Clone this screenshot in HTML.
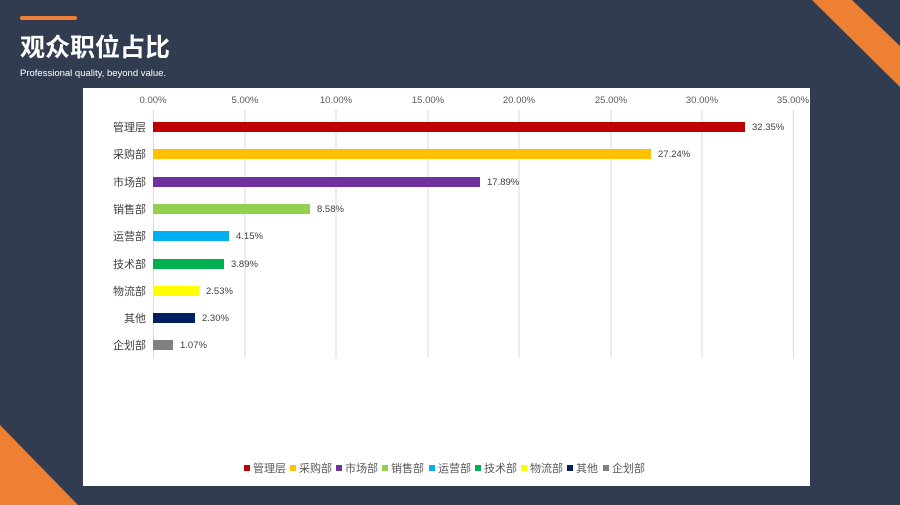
<!DOCTYPE html>
<html><head><meta charset="utf-8"><style>
body{margin:0;width:900px;height:505px;background:#323c50;position:relative;overflow:hidden;font-family:"Liberation Sans","Noto Sans CJK SC",sans-serif}
</style></head><body>
<svg width="900" height="505" style="position:absolute;left:0;top:0">
<polygon points="812,0 852,0 900,46 900,87" fill="#ee8033"/>
<polygon points="0,425 0,505 78,505" fill="#ee8033"/>
<rect x="20" y="16" width="57" height="4" rx="2" fill="#ee8033"/>
<text x="20" y="56" font-size="25" font-weight="bold" fill="#fff" font-family="Liberation Sans,Noto Sans CJK SC,sans-serif">观众职位占比</text>
<text x="20" y="76" font-size="9.5" fill="#fff">Professional quality, beyond value.</text>
<rect x="83" y="88" width="727" height="398" fill="#fff"/>
<g stroke="#d9d9d9" stroke-width="1">
<line x1="153.5" y1="110" x2="153.5" y2="358"/><line x1="245" y1="110" x2="245" y2="358"/><line x1="336" y1="110" x2="336" y2="358"/><line x1="428" y1="110" x2="428" y2="358"/><line x1="519" y1="110" x2="519" y2="358"/><line x1="611" y1="110" x2="611" y2="358"/><line x1="702" y1="110" x2="702" y2="358"/><line x1="793.5" y1="110" x2="793.5" y2="358"/>
</g>
<g font-size="9.5" fill="#595959" text-anchor="middle">
<text x="153" y="103">0.00%</text><text x="245" y="103">5.00%</text><text x="336" y="103">10.00%</text><text x="428" y="103">15.00%</text><text x="519" y="103">20.00%</text><text x="611" y="103">25.00%</text><text x="702" y="103">30.00%</text><text x="793" y="103">35.00%</text>
</g>
<g font-size="11" fill="#404040" text-anchor="end" font-family="Liberation Sans,Noto Sans CJK SC,sans-serif">
<text x="146" y="131">管理层</text><text x="146" y="158">采购部</text><text x="146" y="186">市场部</text><text x="146" y="213">销售部</text><text x="146" y="240">运营部</text><text x="146" y="268">技术部</text><text x="146" y="295">物流部</text><text x="146" y="322">其他</text><text x="146" y="349">企划部</text>
</g>
<g>
<rect x="153" y="122" width="592" height="10" fill="#c00000"/>
<rect x="153" y="149" width="498" height="10" fill="#ffc000"/>
<rect x="153" y="177" width="327" height="10" fill="#7030a0"/>
<rect x="153" y="204" width="157" height="10" fill="#92d050"/>
<rect x="153" y="231" width="76" height="10" fill="#00b0f0"/>
<rect x="153" y="259" width="71" height="10" fill="#00b050"/>
<rect x="153" y="286" width="46" height="10" fill="#ffff00"/>
<rect x="153" y="313" width="42" height="10" fill="#002060"/>
<rect x="153" y="340" width="20" height="10" fill="#808080"/>
</g>
<g font-size="9.5" fill="#404040">
<text x="752" y="130">32.35%</text><text x="658" y="157">27.24%</text><text x="487" y="185">17.89%</text><text x="317" y="212">8.58%</text><text x="236" y="239">4.15%</text><text x="231" y="267">3.89%</text><text x="206" y="294">2.53%</text><text x="202" y="321">2.30%</text><text x="180" y="348">1.07%</text>
</g>
<g font-size="11" fill="#595959" font-family="Liberation Sans,Noto Sans CJK SC,sans-serif">
<rect x="244" y="465" width="6" height="6" fill="#c00000"/><text x="253" y="472">管理层</text>
<rect x="290" y="465" width="6" height="6" fill="#ffc000"/><text x="299" y="472">采购部</text>
<rect x="336" y="465" width="6" height="6" fill="#7030a0"/><text x="345" y="472">市场部</text>
<rect x="382" y="465" width="6" height="6" fill="#92d050"/><text x="391" y="472">销售部</text>
<rect x="429" y="465" width="6" height="6" fill="#00b0f0"/><text x="438" y="472">运营部</text>
<rect x="475" y="465" width="6" height="6" fill="#00b050"/><text x="484" y="472">技术部</text>
<rect x="521" y="465" width="6" height="6" fill="#ffff00"/><text x="530" y="472">物流部</text>
<rect x="567" y="465" width="6" height="6" fill="#002060"/><text x="576" y="472">其他</text>
<rect x="603" y="465" width="6" height="6" fill="#808080"/><text x="612" y="472">企划部</text>
</g>
</svg>
</body></html>
